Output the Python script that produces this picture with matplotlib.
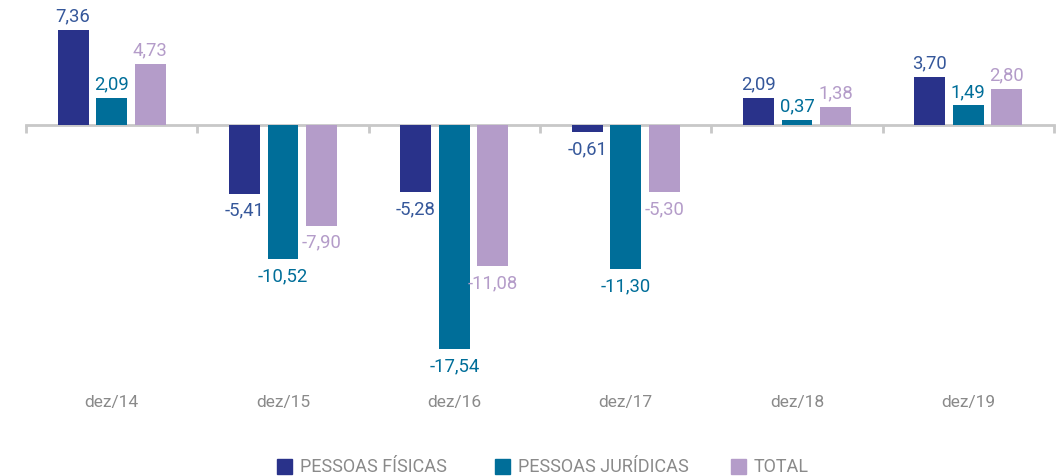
import matplotlib
matplotlib.use("Agg")
import matplotlib.pyplot as plt
from matplotlib.transforms import blended_transform_factory
import numpy as np

plt.rcParams['font.family'] = ['Roboto', 'DejaVu Sans']

categories = ["dez/14", "dez/15", "dez/16", "dez/17", "dez/18", "dez/19"]
series_names = ["PESSOAS FÍSICAS", "PESSOAS JURÍDICAS", "TOTAL"]
pf = [7.36, -5.41, -5.28, -0.61, 2.09, 3.70]
pj = [2.09, -10.52, -17.54, -11.30, 0.37, 1.49]
total = [4.73, -7.90, -11.08, -5.30, 1.38, 2.80]

bar_colors = ["#29328a", "#006e99", "#b49cc9"]
label_colors = ["#35579a", "#006e99", "#b49cc9"]

W, H = 1060, 477
fig = plt.figure(figsize=(W/100, H/100), dpi=100)
ax_left, ax_right = 26, 1054
ax_top, ax_bot = 0, 380
zero_px = 125.5
scale = 12.8
ax = fig.add_axes([ax_left/W, 1-ax_bot/H, (ax_right-ax_left)/W, (ax_bot-ax_top)/H])
ax.set_xlim(-0.5, len(categories)-0.5)
ax.set_ylim(-(ax_bot-zero_px)/scale, (zero_px-ax_top)/scale)

x = np.arange(len(categories))
bw = 0.18
step = 0.225
fmt = lambda v: f"{v:.2f}".replace(".", ",")
for k, vals in enumerate([pf, pj, total]):
    xs = x + (k-1)*step
    ax.bar(xs, vals, width=bw, color=bar_colors[k], zorder=3)
    for xi, v in zip(xs, vals):
        if v >= 0:
            ax.annotate(fmt(v), (xi, v), xytext=(0, 4), textcoords="offset points",
                        ha="center", va="bottom", color=label_colors[k], fontsize=13.3)
        else:
            ax.annotate(fmt(v), (xi, v), xytext=(0, -5), textcoords="offset points",
                        ha="center", va="top", color=label_colors[k], fontsize=13.3)

for s in ["top", "right", "left"]:
    ax.spines[s].set_visible(False)
ax.spines["bottom"].set_position(("data", 0))
ax.spines["bottom"].set_color("#c8c8c8")
ax.spines["bottom"].set_linewidth(2)
ax.spines["bottom"].set_zorder(2)
ax.set_yticks([])
ax.set_xticks(np.arange(-0.5, len(categories), 1.0))
ax.set_xticklabels([])
ax.tick_params(axis="x", direction="out", length=6, width=2, color="#c8c8c8")

tr = blended_transform_factory(ax.transData, fig.transFigure)
for i, c in enumerate(categories):
    fig.text(i, 1-403/H, c, transform=tr, ha="center", va="center",
             color="#8a8a8a", fontsize=12.5)

# legend
leg_x = [277, 495, 731]
for k, name in enumerate(series_names):
    fig.patches.append(plt.Rectangle((leg_x[k]/W, 1-475/H), 15/W, 15/H,
                                     transform=fig.transFigure, color=bar_colors[k]))
    fig.text((leg_x[k]+23)/W, 1-467/H, name, ha="left", va="center",
             color="#8a8a8a", fontsize=13)

fig.savefig("out.png", dpi=100)
